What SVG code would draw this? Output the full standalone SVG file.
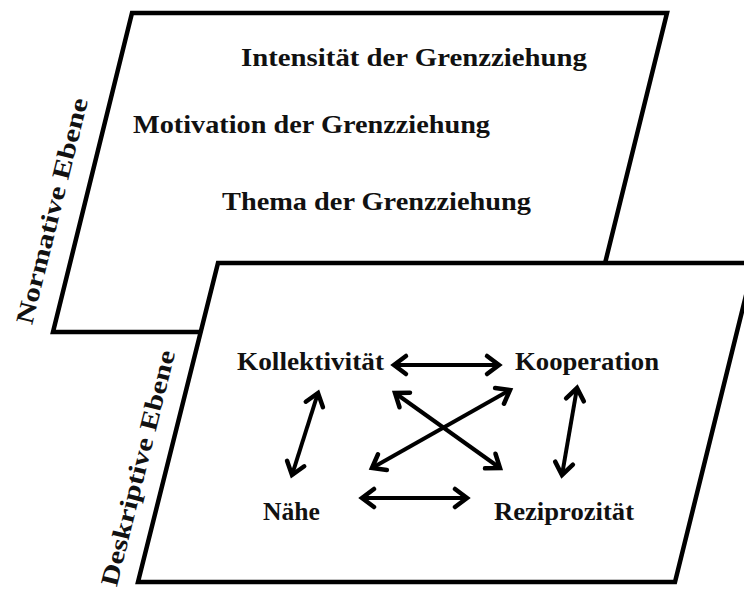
<svg xmlns="http://www.w3.org/2000/svg" width="744" height="590" viewBox="0 0 744 590">
<style>
.plane{fill:#fff;stroke:#000;stroke-width:4.5;stroke-linejoin:miter}
.t{font-family:"Liberation Serif","Times New Roman",serif;font-weight:bold;fill:#111}
.big{font-size:25.5px}
.lbl{font-size:25px}
.side{font-size:25px}
.arr{stroke:#000;stroke-width:4;fill:none;marker-start:url(#h);marker-end:url(#h)}
</style>
<defs>
<marker id="h" markerUnits="userSpaceOnUse" markerWidth="40" markerHeight="40" viewBox="-20 -20 40 40" refX="0" refY="0" orient="auto-start-reverse" overflow="visible">
<path d="M -12 -9 L 0 0 L -12 9" fill="none" stroke="#000" stroke-width="4.5" stroke-linejoin="miter" stroke-linecap="round"/>
</marker>
</defs>
<rect width="744" height="590" fill="#fff"/>
<g id="normative">
<polygon class="plane" points="132,13 667,13 588,332 53,332"/>
<text class="t big" x="241" y="66" textLength="346" lengthAdjust="spacingAndGlyphs">Intensität der Grenzziehung</text>
<text class="t big" x="133" y="133" textLength="357" lengthAdjust="spacingAndGlyphs">Motivation der Grenzziehung</text>
<text class="t big" x="222" y="210" textLength="309" lengthAdjust="spacingAndGlyphs">Thema der Grenzziehung</text>
<text class="t side" transform="translate(60,213) rotate(-76)" text-anchor="middle" textLength="232" lengthAdjust="spacingAndGlyphs">Normative Ebene</text>
</g>
<g id="deskriptive">
<polygon class="plane" points="218,263 754,263 675,582 138,582"/>
<text class="t side" transform="translate(146,470) rotate(-76)" text-anchor="middle" textLength="242" lengthAdjust="spacingAndGlyphs">Deskriptive  Ebene</text>
</g>
<g id="kollektivitaet"><text class="t lbl" x="237" y="370" textLength="147" lengthAdjust="spacingAndGlyphs">Kollektivität</text></g>
<g id="kooperation"><text class="t lbl" x="515" y="370" textLength="144" lengthAdjust="spacingAndGlyphs">Kooperation</text></g>
<g id="naehe"><text class="t lbl" x="263" y="520" textLength="57" lengthAdjust="spacingAndGlyphs">Nähe</text></g>
<g id="reziprozitaet"><text class="t lbl" x="494" y="520" textLength="140" lengthAdjust="spacingAndGlyphs">Reziprozität</text></g>
<g id="connectors">
<line class="arr" x1="394" y1="365" x2="499" y2="365"/>
<line class="arr" x1="362" y1="498" x2="467" y2="498"/>
<line class="arr" x1="318" y1="393" x2="292" y2="475"/>
<line class="arr" x1="577" y1="388" x2="562" y2="475"/>
<line class="arr" x1="395" y1="393" x2="500" y2="468"/>
<line class="arr" x1="510" y1="390" x2="372" y2="468"/>
</g>
</svg>
